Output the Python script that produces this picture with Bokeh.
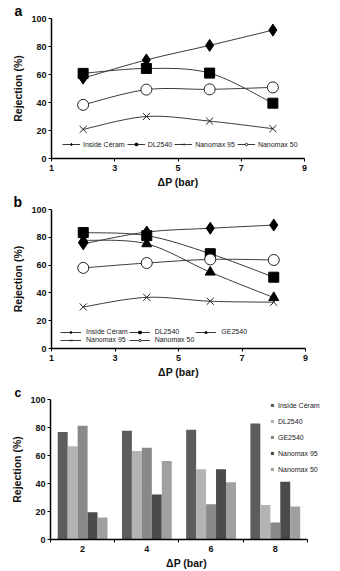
from bokeh.plotting import figure
from bokeh.models import Legend, LegendItem, FixedTicker, ColumnDataSource, Range1d
from bokeh.transform import dodge
from bokeh.embed import file_html
from bokeh.resources import INLINE

pressure = [2, 4, 6, 8]
x_ticks = [1, 3, 5, 7, 9]
y_ticks = [0, 20, 40, 60, 80, 100]

# Panel a
a_inside = [57.4, 70.4, 80.8, 91.7]
a_dl2540 = [60.8, 64.3, 61.0, 39.5]
a_nano95 = [20.8, 30.0, 26.7, 21.3]
a_nano50 = [38.3, 49.2, 49.4, 50.8]

# Panel b
b_inside = [75.3, 83.8, 86.5, 88.8]
b_dl2540 = [83.4, 81.2, 68.2, 51.3]
b_ge2540 = [77.9, 75.3, 54.9, 36.6]
b_nano95 = [29.9, 36.8, 34.0, 33.3]
b_nano50 = [58.0, 61.5, 64.1, 63.7]

# Panel c
c_inside = [76.7, 77.6, 78.4, 82.8]
c_dl2540 = [66.6, 63.3, 50.1, 24.7]
c_ge2540 = [81.2, 65.6, 25.2, 12.2]
c_nano95 = [19.5, 32.2, 50.1, 41.2]
c_nano50 = [15.8, 56.0, 40.9, 23.5]

FONT = "Liberation Sans"
LINE_COLOR = "#3a3a3a"


def smooth_source(xs, ys):
    """Catmull-Rom style bezier segments through the data points (Excel smoothed line)."""
    n = len(xs)
    pts = list(zip(xs, ys))
    d = dict(x0=[], y0=[], x1=[], y1=[], cx0=[], cy0=[], cx1=[], cy1=[])
    for i in range(n - 1):
        p0 = pts[i - 1] if i > 0 else pts[i]
        p1 = pts[i]
        p2 = pts[i + 1]
        p3 = pts[i + 2] if i + 2 < n else pts[i + 1]
        d["x0"].append(p1[0]); d["y0"].append(p1[1])
        d["x1"].append(p2[0]); d["y1"].append(p2[1])
        d["cx0"].append(p1[0] + (p2[0] - p0[0]) / 6.0)
        d["cy0"].append(p1[1] + (p2[1] - p0[1]) / 6.0)
        d["cx1"].append(p2[0] - (p3[0] - p1[0]) / 6.0)
        d["cy1"].append(p2[1] - (p3[1] - p1[1]) / 6.0)
    return ColumnDataSource(d)


def style(p, letter, letter_size, letter_offset):
    for ax in (p.xaxis[0], p.yaxis[0]):
        ax.axis_line_width = 1.5
        ax.axis_line_color = "black"
        ax.major_tick_line_color = "black"
        ax.major_tick_line_width = 1
        ax.major_tick_out = 3
        ax.major_tick_in = 0
        ax.minor_tick_line_color = None
        ax.major_label_text_font = FONT
        ax.major_label_text_font_style = "bold"
        ax.major_label_text_font_size = "9px"
        ax.major_label_text_color = "#111111"
        ax.axis_label_text_font = FONT
        ax.axis_label_text_font_style = "bold"
        ax.axis_label_text_font_size = "10.5px"
        ax.axis_label_text_color = "#111111"
    p.xaxis[0].major_label_standoff = 3
    p.xaxis[0].axis_label_standoff = 2
    p.yaxis[0].major_label_standoff = 2
    p.yaxis[0].axis_label_standoff = 4
    p.xgrid.visible = False
    p.ygrid.visible = False
    p.outline_line_color = None
    p.yaxis[0].ticker = FixedTicker(ticks=y_ticks)
    p.xaxis[0].axis_label = "\u0394P (bar)"
    p.yaxis[0].axis_label = "Rejection (%)"
    p.title.text = letter
    p.title.text_font = FONT
    p.title.text_font_style = "bold"
    p.title.text_font_size = letter_size
    p.title.text_color = "black"
    p.title.align = "left"
    p.title.offset = letter_offset
    p.title.standoff = 0
    p.title.vertical_align = "bottom"


MARKERS = {
    "inside": dict(marker="diamond", size=12, fill_color="black", line_color="black"),
    "dl": dict(marker="square", size=10, fill_color="black", line_color="black"),
    "ge": dict(marker="triangle", size=10, fill_color="black", line_color="black"),
    "n95": dict(marker="x", size=10, fill_color=None, line_color="#222222", line_width=1),
    "n50": dict(marker="circle", size=11, fill_color="white", line_color="#222222", line_width=1),
}


def line_series(p, ys, key, label):
    ln = p.bezier(x0="x0", y0="y0", x1="x1", y1="y1", cx0="cx0", cy0="cy0", cx1="cx1", cy1="cy1",
                  source=smooth_source(pressure, ys), line_color=LINE_COLOR, line_width=1)
    sc = p.scatter(x=pressure, y=ys, **MARKERS[key])
    return LegendItem(label=label, renderers=[ln, sc])


def legend_style(lg):
    lg.label_text_font = FONT
    lg.label_text_font_size = "7px"
    lg.label_text_color = "#222222"
    lg.background_fill_alpha = 0
    lg.border_line_color = None
    lg.padding = 0
    lg.margin = 0


# ---------- Panel a ----------
pa = figure(width=340, height=190, x_range=Range1d(1, 9), y_range=Range1d(0, 100),
            output_backend="svg", toolbar_location=None,
            min_border_left=51, min_border_right=36, min_border_top=18, min_border_bottom=31)
style(pa, "a", "14px", -37)
pa.xaxis[0].ticker = FixedTicker(ticks=x_ticks)
items_a = [
    line_series(pa, a_inside, "inside", "Inside C\u00e9ram"),
    line_series(pa, a_dl2540, "dl", "DL2540"),
    line_series(pa, a_nano95, "n95", "Nanomax 95"),
    line_series(pa, a_nano50, "n50", "Nanomax 50"),
]
lega = Legend(items=items_a, orientation="horizontal", location=(11, 10),
              glyph_width=18, glyph_height=6, label_standoff=3, spacing=2, label_height=8)
legend_style(lega)
pa.add_layout(lega, "center")

# ---------- Panel b ----------
pb = figure(width=340, height=190, x_range=Range1d(1, 9), y_range=Range1d(0, 100),
            output_backend="svg", toolbar_location=None,
            min_border_left=51, min_border_right=35, min_border_top=19, min_border_bottom=31)
style(pb, "b", "14px", -38)
pb.xaxis[0].ticker = FixedTicker(ticks=x_ticks)
items_b = [
    line_series(pb, b_inside, "inside", "Inside C\u00e9ram"),
    line_series(pb, b_dl2540, "dl", "DL2540"),
    line_series(pb, b_ge2540, "ge", "GE2540"),
    line_series(pb, b_nano95, "n95", "Nanomax 95"),
    line_series(pb, b_nano50, "n50", "Nanomax 50"),
]
legb = Legend(items=items_b, orientation="horizontal", ncols=3, location=(9, 5),
              glyph_width=21, glyph_height=6, label_standoff=5, spacing=1, label_height=6)
legend_style(legb)
pb.add_layout(legb, "center")

# ---------- Panel c ----------
pc = figure(width=340, height=191, x_range=Range1d(1, 9.47), y_range=Range1d(0, 100),
            output_backend="svg", toolbar_location=None,
            min_border_left=50, min_border_right=18, min_border_top=19, min_border_bottom=30)
style(pc, "c", "12px", -36)
pc.xaxis[0].bounds = (1, 9)
pc.xaxis[0].ticker = FixedTicker(ticks=pressure, minor_ticks=x_ticks)
pc.xaxis[0].major_tick_out = 0
pc.xaxis[0].minor_tick_out = 3
pc.xaxis[0].minor_tick_in = 0
pc.xaxis[0].minor_tick_line_color = "black"

src_c = ColumnDataSource(dict(x=pressure, inside=c_inside, dl=c_dl2540, ge=c_ge2540,
                              n95=c_nano95, n50=c_nano50))
bar_specs = [
    ("inside", "Inside C\u00e9ram", "#5c5c5c", -0.62),
    ("dl", "DL2540", "#b3b3b3", -0.31),
    ("ge", "GE2540", "#898989", 0.0),
    ("n95", "Nanomax 95", "#4b4b4b", 0.31),
    ("n50", "Nanomax 50", "#a0a0a0", 0.62),
]
items_c = []
for col, lab, colr, off in bar_specs:
    r = pc.vbar(x=dodge("x", off), top=col, width=0.31, source=src_c,
                fill_color=colr, line_color=None)
    items_c.append(LegendItem(label=lab, renderers=[r]))
legc = Legend(items=items_c, orientation="vertical", location=(220, 66),
              glyph_width=4, glyph_height=4, label_standoff=4, spacing=8, label_height=8)
legend_style(legc)
pc.add_layout(legc, "center")

html = file_html([pa, pb, pc], INLINE)
html = html.replace("<head>", "<head><style>body{margin:0;padding:0;}</style>", 1)
open("out.html", "w").write(html)
